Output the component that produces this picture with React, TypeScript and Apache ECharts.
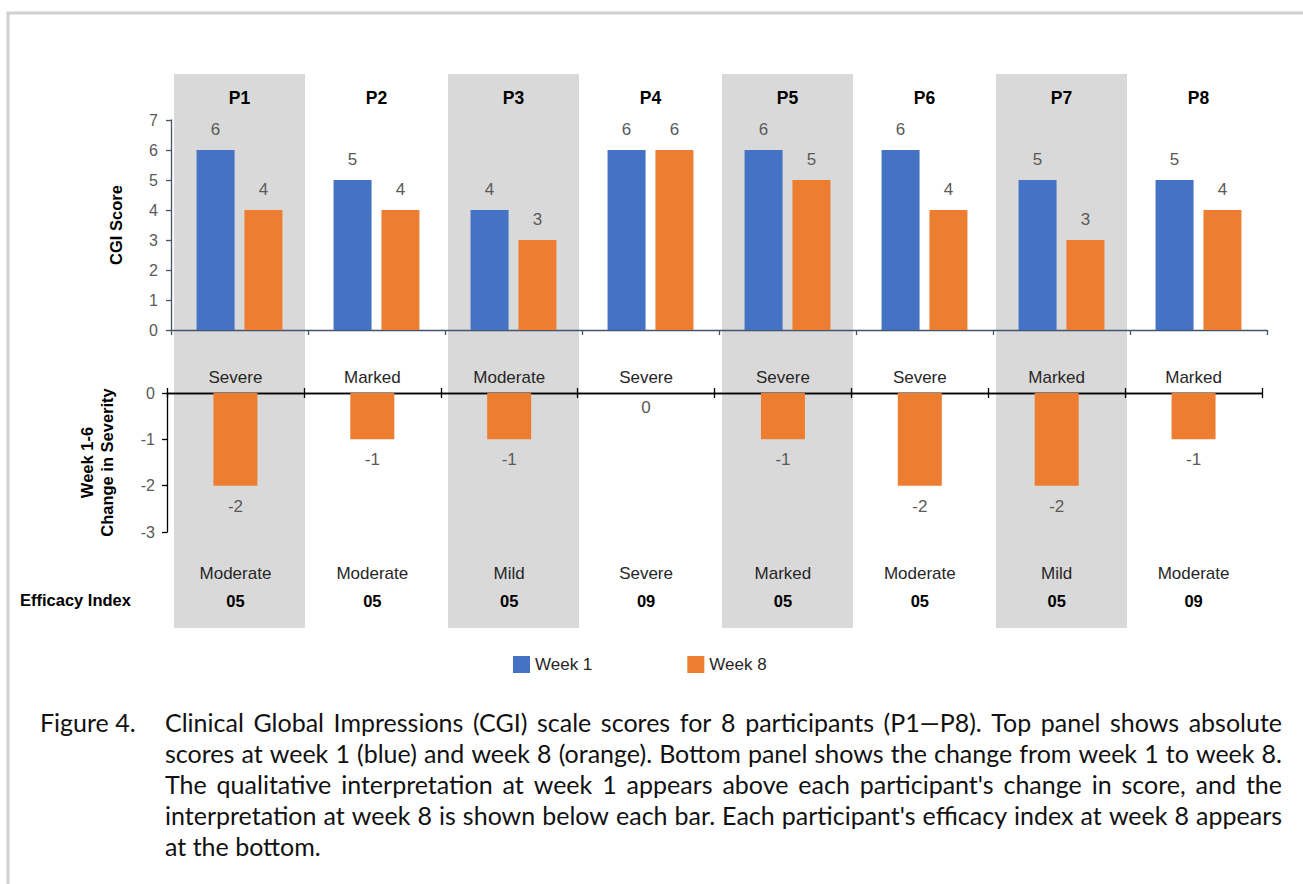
import React, { useEffect, useRef } from "react";
import * as echarts from "echarts";

const participants = ["P1", "P2", "P3", "P4", "P5", "P6", "P7", "P8"];
const week1Scores = [6, 5, 4, 6, 6, 6, 5, 5];
const week8Scores = [4, 4, 3, 6, 5, 4, 3, 4];
const changeScores = [-2, -1, -1, 0, -1, -2, -2, -1];
const severityWeek1 = ["Severe", "Marked", "Moderate", "Severe", "Severe", "Severe", "Marked", "Marked"];
const severityWeek8 = ["Moderate", "Moderate", "Mild", "Severe", "Marked", "Moderate", "Mild", "Moderate"];
const efficacyIndex = ["05", "05", "05", "09", "05", "05", "05", "09"];
const bandFlags = [1, 0, 1, 0, 1, 0, 1, 0];
const seriesNames = ["Week 1", "Week 8"];
const captionLabel = "Figure 4.";
const captionLines = [
  "Clinical Global Impressions (CGI) scale scores for 8 participants (P1\u2014P8). Top panel shows absolute",
  "scores at week 1 (blue) and week 8 (orange). Bottom panel shows the change from week 1 to week 8.",
  "The qualitative interpretation at week 1 appears above each participant's change in score, and the",
  "interpretation at week 8 is shown below each bar. Each participant's efficacy index at week 8 appears",
  "at the bottom.",
];

const FONT = "Liberation Sans, Arial, sans-serif";
const CAP_FONT = "Lato, Open Sans, sans-serif";
const CAP_SIZE = 25;
const BLUE = "#4472C4";
const ORANGE = "#ED7D31";
const GREY_TEXT = "#595959";
const AXIS_BLUE = "#44546A";

function buildCaption(): any[] {
  const left = 165;
  const right = 1282;
  const top = 722;
  const step = 31;
  const canvas = document.createElement("canvas");
  const ctx = canvas.getContext("2d")!;
  ctx.font = `${CAP_SIZE}px ${CAP_FONT}`;
  const out: any[] = [];
  const style = (text: string) => ({
    text,
    font: `${CAP_SIZE}px ${CAP_FONT}`,
    fill: "#111",
    textVerticalAlign: "middle",
  });
  captionLines.forEach((line, i) => {
    const y = top + i * step;
    const isLast = i === captionLines.length - 1;
    if (isLast) {
      out.push({ type: "text", x: left, y, silent: true, style: style(line) });
      return;
    }
    const words = line.split(" ");
    const widths = words.map((w) => ctx.measureText(w).width);
    const total = widths.reduce((a, b) => a + b, 0);
    const gap = (right - left - total) / (words.length - 1);
    let x = left;
    words.forEach((w, k) => {
      out.push({ type: "text", x, y, silent: true, style: style(w) });
      x += widths[k] + gap;
    });
  });
  return out;
}

export default function App() {
  const ref = useRef<HTMLDivElement>(null);
  useEffect(() => {
    if (!ref.current) return;
    const chart = echarts.init(ref.current, undefined, { renderer: "svg" });

    const option: any = {
      animation: false,
      backgroundColor: "#fff",
      textStyle: { fontFamily: FONT },
      legend: {
        data: seriesNames,
        left: 508,
        top: 651,
        itemWidth: 17,
        itemHeight: 17,
        itemGap: 95,
        icon: "rect",
        textStyle: { fontSize: 17, color: "#262626", fontFamily: FONT },
      },
      grid: [
        { left: 171, top: 74, width: 1096, height: 554 },
        { left: 171, top: 120, width: 1096, height: 210 },
        { left: 167, top: 393, width: 1095, height: 139 },
      ],
      xAxis: [
        { type: "category", gridIndex: 0, data: participants, show: false },
        {
          type: "category",
          gridIndex: 1,
          data: participants,
          position: "bottom",
          z: 3,
          axisLine: { lineStyle: { color: AXIS_BLUE, width: 1.3 } },
          axisTick: { show: true, length: 5, lineStyle: { color: AXIS_BLUE, width: 1.3 } },
          axisLabel: { show: false },
        },
        {
          type: "category",
          gridIndex: 1,
          data: participants,
          position: "top",
          z: 3,
          axisLine: { show: false },
          axisTick: { show: false },
          axisLabel: { show: true, margin: 13, fontSize: 17.5, fontWeight: "bold", color: "#000", fontFamily: FONT },
        },
        {
          type: "category",
          gridIndex: 2,
          data: severityWeek1,
          position: "top",
          z: 3,
          axisLine: { show: true, lineStyle: { color: "#000", width: 1.3 } },
          axisTick: { show: true, length: 5, lineStyle: { color: "#000", width: 1.3 } },
          axisLabel: { show: true, margin: 7, fontSize: 17, color: "#262626", fontFamily: FONT },
        },
        {
          type: "category",
          gridIndex: 2,
          data: participants,
          position: "top",
          z: 3,
          axisLine: { show: true, lineStyle: { color: "#000", width: 1.3 } },
          axisTick: { show: true, inside: true, length: 5, lineStyle: { color: "#000", width: 1.3 } },
          axisLabel: { show: false },
        },
        {
          type: "category",
          gridIndex: 2,
          data: severityWeek8.map((s, i) => `{a|${s}}\n{b|${efficacyIndex[i]}}`),
          position: "bottom",
          z: 3,
          axisLine: { show: false },
          axisTick: { show: false },
          axisLabel: {
            show: true,
            margin: 28,
            rich: {
              a: { fontSize: 17, color: "#262626", fontFamily: FONT, lineHeight: 27 },
              b: { fontSize: 16.5, fontWeight: "bold", color: "#000", fontFamily: FONT, lineHeight: 27 },
            },
          },
        },
      ],
      yAxis: [
        { type: "value", gridIndex: 0, min: 0, max: 1, show: false },
        {
          type: "value",
          gridIndex: 1,
          min: 0,
          max: 7,
          interval: 1,
          z: 3,
          name: "CGI Score",
          nameLocation: "middle",
          nameGap: 47,
          nameTextStyle: { fontSize: 16.5, fontWeight: "bold", color: "#000", fontFamily: FONT },
          axisLine: { show: true, lineStyle: { color: AXIS_BLUE, width: 1.3 } },
          axisTick: { show: true, length: 5, lineStyle: { color: AXIS_BLUE, width: 1.3 } },
          axisLabel: { fontSize: 16, color: GREY_TEXT, margin: 13, fontFamily: FONT },
          splitLine: { show: false },
        },
        {
          type: "value",
          gridIndex: 2,
          min: -3,
          max: 0,
          interval: 1,
          z: 3,
          name: "Week 1-6\nChange in Severity",
          nameLocation: "middle",
          nameGap: 50,
          nameTextStyle: { fontSize: 16.5, fontWeight: "bold", color: "#000", fontFamily: FONT, lineHeight: 20 },
          axisLine: { show: true, lineStyle: { color: "#000", width: 1.3 } },
          axisTick: { show: true, length: 5, lineStyle: { color: "#000", width: 1.3 } },
          axisLabel: { fontSize: 16, color: GREY_TEXT, margin: 12, fontFamily: FONT },
          splitLine: { show: false },
        },
      ],
      series: [
        {
          type: "bar",
          name: "band",
          xAxisIndex: 0,
          yAxisIndex: 0,
          data: bandFlags,
          barWidth: 131,
          silent: true,
          z: 0,
          itemStyle: { color: "#D9D9D9" },
        },
        {
          type: "bar",
          name: seriesNames[0],
          xAxisIndex: 1,
          yAxisIndex: 1,
          data: week1Scores,
          barWidth: 38,
          barGap: "26%",
          z: 5,
          itemStyle: { color: BLUE },
          label: { show: true, position: "top", distance: 12, fontSize: 17, color: GREY_TEXT, fontFamily: FONT },
        },
        {
          type: "bar",
          name: seriesNames[1],
          xAxisIndex: 1,
          yAxisIndex: 1,
          data: week8Scores,
          barWidth: 38,
          barGap: "26%",
          z: 5,
          itemStyle: { color: ORANGE },
          label: { show: true, position: "top", distance: 12, fontSize: 17, color: GREY_TEXT, fontFamily: FONT },
        },
        {
          type: "bar",
          name: "Change",
          xAxisIndex: 3,
          yAxisIndex: 2,
          data: changeScores.map((v) =>
            v === 0 ? { value: v, label: { position: "bottom", distance: 6 } } : v
          ),
          barWidth: 44,
          z: 5,
          itemStyle: { color: ORANGE },
          label: { show: true, position: "bottom", distance: 12, fontSize: 17, color: GREY_TEXT, fontFamily: FONT },
        },
      ],
      graphic: [
        {
          type: "polyline",
          shape: { points: [[8, 884], [8, 13], [1303, 13]] },
          style: { stroke: "#D0D0D0", lineWidth: 3, fill: null },
          silent: true,
        },
        {
          type: "text",
          x: 20,
          y: 600,
          style: {
            text: "Efficacy Index",
            font: `bold 16.5px ${FONT}`,
            fill: "#000",
            textVerticalAlign: "middle",
          },
        },
        {
          type: "text",
          x: 40,
          y: 722,
          style: {
            text: captionLabel,
            font: `${CAP_SIZE}px ${CAP_FONT}`,
            fill: "#111",
            textVerticalAlign: "middle",
          },
        },
        ...buildCaption(),
      ],
    };
    chart.setOption(option);
    return () => chart.dispose();
  }, []);

  return (
    <div
      ref={ref}
      style={{ position: "fixed", left: 0, top: 0, width: 1303, height: 884, background: "#fff" }}
    />
  );
}
